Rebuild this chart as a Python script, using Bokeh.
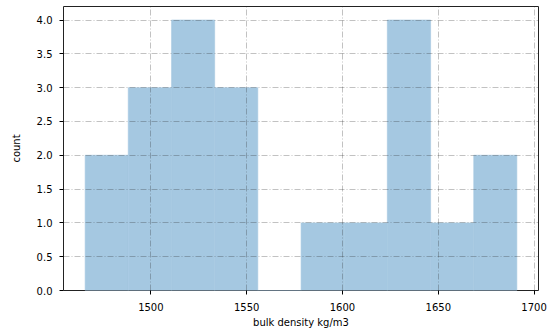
from bokeh.plotting import figure
from bokeh.models import FixedTicker, NumeralTickFormatter, Range1d
from bokeh.embed import file_html
from bokeh.resources import INLINE

bin_edges = [1465.7, 1488.2, 1510.8, 1533.3, 1555.8, 1578.4, 1600.9, 1623.4, 1646.0, 1668.5, 1691.0]
counts = [2, 3, 4, 3, 0, 1, 1, 4, 1, 2]
x_ticks = [1500, 1550, 1600, 1650, 1700]
y_ticks = [0.0, 0.5, 1.0, 1.5, 2.0, 2.5, 3.0, 3.5, 4.0]

p = figure(width=549, height=336, output_backend="svg", toolbar_location=None,
           x_range=Range1d(1454.4, 1702.3), y_range=Range1d(0, 4.2),
           min_border_left=63, min_border_right=11, min_border_top=6, min_border_bottom=46)

p.quad(left=bin_edges[:-1], right=bin_edges[1:], bottom=0, top=counts,
       fill_color="#a5c8e1", fill_alpha=1.0, line_color="#a5c8e1", line_width=0.6)

for ax in (p.xaxis[0], p.yaxis[0]):
    ax.major_label_text_font = "DejaVu Sans"
    ax.major_label_text_font_size = "10px"
    ax.major_label_text_color = "black"
    ax.axis_label_text_font = "DejaVu Sans"
    ax.axis_label_text_font_size = "10px"
    ax.axis_label_text_font_style = "normal"
    ax.axis_label_text_color = "black"
    ax.minor_tick_line_color = None
    ax.major_tick_out = 4
    ax.major_tick_in = 0
    ax.axis_line_color = None
    ax.major_tick_line_color = "black"

p.xaxis.ticker = FixedTicker(ticks=x_ticks)
p.yaxis.ticker = FixedTicker(ticks=y_ticks)
p.yaxis.formatter = NumeralTickFormatter(format="0.0")
p.xaxis.axis_label = "bulk density kg/m3"
p.yaxis.axis_label = "count"
p.xaxis.axis_label_standoff = 3
p.yaxis.axis_label_standoff = 12
p.xaxis.major_label_standoff = 8
p.yaxis.major_label_standoff = 7

for g in (p.xgrid[0], p.ygrid[0]):
    g.grid_line_color = "#2a2a2a"
    g.grid_line_alpha = 0.36
    g.grid_line_dash = "6 2 1 2"
    g.grid_line_width = 0.8
    g.level = "overlay"

p.outline_line_color = "#222222"
p.outline_line_width = 1
p.background_fill_color = "white"
p.border_fill_color = "white"

open("out.html", "w").write(file_html(p, INLINE))
